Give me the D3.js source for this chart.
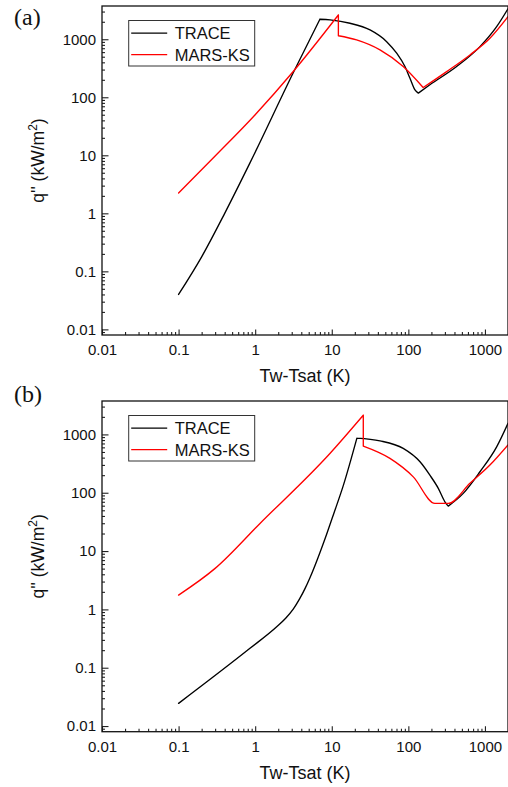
<!DOCTYPE html>
<html>
<head>
<meta charset="utf-8">
<script src="https://cdn.jsdelivr.net/npm/d3@7"></script>
<style>
  html, body { margin: 0; padding: 0; background: #fff; }
  svg { display: block; }
  text { font-family: "Liberation Sans", Arial, sans-serif; fill: #111; }
</style>
</head>
<body>
<svg id="chart" width="508" height="787"></svg>
<script>
// Boiling curve: wall heat flux vs wall superheat, two codes, two conditions

const seriesNames = ["TRACE", "MARS-KS"];
const seriesColors = ["#000000", "#ff0000"];

// Panel (a)
const traceA_dT = [0.1, 0.2, 0.4, 0.855, 3.14, 7.0, 9.5, 17.3, 31.6, 52.1, 70.4, 90.3, 105, 122, 135, 191, 427, 861, 1422, 2000];
const traceA_q  = [0.04, 0.178, 1.0, 7.4, 265, 2210, 2150, 1885, 1445, 909, 574, 338, 213, 134, 118, 164, 338, 747, 1648, 3350];
const marsA_dT  = [0.1, 0.3, 1.0, 3.14, 12.2, 12.2, 21.1, 42.6, 85.7, 156, 316, 637, 1161, 2000];
const marsA_q   = [2.24, 9.7, 50, 278, 2620, 1150, 973, 655, 338, 147, 277, 537, 1040, 2450];

// Panel (b)
const traceB_dT = [0.1, 0.855, 1.91, 2.5, 3.14, 3.8, 4.47, 5.19, 8.57, 10.5, 14.2, 21.3, 42.6, 85.7, 142, 191, 246, 300, 332, 521, 861, 1422, 2000];
const traceB_q  = [0.0245, 0.215, 0.504, 0.705, 1.01, 1.51, 2.27, 3.5, 19.5, 42, 135, 865, 776, 575, 339, 200, 119, 70, 59, 97.5, 229, 612, 1550];
const marsB_dT  = [0.1, 0.3, 1.156, 9.46, 25.8, 25.8, 57.5, 116, 222, 332, 637, 1161, 2000];
const marsB_q   = [1.76, 5.05, 29.8, 472, 2140, 630, 388, 187, 65.6, 65.6, 145, 298, 660];

// Axes
const xMajorTicks = [0.01, 0.1, 1, 10, 100, 1000];
const xTickLabels = ["0.01", "0.1", "1", "10", "100", "1000"];
const yMajorTicks = [0.01, 0.1, 1, 10, 100, 1000];
const yTickLabels = ["0.01", "0.1", "1", "10", "100", "1000"];
const xDomain = [0.01, 2000];
const yDomain = [0.008, 3740];
const xTitle = "Tw-Tsat (K)";

const svg = d3.select("#chart");
svg.append("rect").attr("width", 508).attr("height", 787).attr("fill", "#fff");

const x = d3.scaleLog().domain(xDomain).range([102, 508]);

function minorTicks(domain) {
  const out = [];
  for (let e = -4; e <= 4; e++) {
    for (let m = 2; m <= 9; m++) {
      const v = m * Math.pow(10, e);
      if (v > domain[0] * 1.02 && v < domain[1] * 0.999) out.push(v);
    }
  }
  return out;
}

// split a series into pieces at vertical steps and local extrema so corners stay sharp
function pieces(xs, qs) {
  const pts = xs.map((v, i) => [v, qs[i]]);
  const segs = [];
  let cur = [pts[0]];
  for (let i = 1; i < pts.length; i++) {
    const p = pts[i], prev = pts[i - 1];
    if (p[0] === prev[0]) {
      if (cur.length > 1) segs.push(cur);
      segs.push([prev, p]);
      cur = [p];
      continue;
    }
    cur.push(p);
    const next = pts[i + 1];
    if (next && next[0] !== p[0] && (p[1] - prev[1]) * (next[1] - p[1]) < 0) {
      segs.push(cur);
      cur = [p];
    }
  }
  if (cur.length > 1) segs.push(cur);
  return segs;
}

function panel(opts) {
  const { top, bottom, label, labelY, series } = opts;
  const y = d3.scaleLog().domain(yDomain).range([bottom, top]);
  const g = svg.append("g");
  const left = x.range()[0], right = x.range()[1];

  // x axis ticks (inward)
  const xMinor = d3.axisBottom(x).tickValues(minorTicks(xDomain)).tickSize(-3).tickSizeOuter(0).tickFormat("");
  const xMajor = d3.axisBottom(x).tickValues(xMajorTicks).tickSize(-5.5).tickSizeOuter(0).tickPadding(9.5)
    .tickFormat((d, i) => xTickLabels[i]);
  g.append("g").attr("transform", `translate(0,${bottom})`).call(xMinor);
  const gx = g.append("g").attr("transform", `translate(0,${bottom})`).call(xMajor);
  gx.selectAll("text").style("font-size", "15px").style("font-family", "Liberation Sans, Arial, sans-serif").attr("fill", "#111");

  // y axis ticks (inward)
  const yMinor = d3.axisLeft(y).tickValues(minorTicks(yDomain)).tickSize(-3).tickSizeOuter(0).tickFormat("");
  const yMajor = d3.axisLeft(y).tickValues(yMajorTicks).tickSize(-6.5).tickSizeOuter(0).tickPadding(6)
    .tickFormat((d, i) => yTickLabels[i]);
  g.append("g").attr("transform", `translate(${left},0)`).call(yMinor);
  const gy = g.append("g").attr("transform", `translate(${left},0)`).call(yMajor);
  gy.selectAll("text").style("font-size", "15px").style("font-family", "Liberation Sans, Arial, sans-serif").attr("fill", "#111");

  g.selectAll(".domain").remove();
  g.selectAll(".tick line").attr("stroke", "#222").attr("stroke-width", 1.1);

  // curves
  const line = d3.line().x(d => x(d[0])).y(d => y(d[1])).curve(d3.curveMonotoneX);
  const clipId = "clip" + label.replace(/\W/g, "");
  svg.append("clipPath").attr("id", clipId).append("rect")
    .attr("x", left).attr("y", top).attr("width", right - left).attr("height", bottom - top);
  const cg = g.append("g").attr("clip-path", `url(#${clipId})`);
  series.forEach((s, k) => {
    const d = pieces(s.dT, s.q).map(seg => line(seg)).join("");
    cg.append("path").attr("d", d).attr("fill", "none")
      .attr("stroke", seriesColors[k]).attr("stroke-width", 1.35)
      .attr("stroke-linejoin", "round").attr("stroke-linecap", "round");
  });

  // frame
  g.append("rect").attr("x", left).attr("y", top).attr("width", right - left).attr("height", bottom - top)
    .attr("fill", "none").attr("stroke", "#111").attr("stroke-width", 1.3);

  // legend
  const lg = g.append("g").attr("transform", `translate(128.7,${top + 14.5})`);
  lg.append("rect").attr("width", 126).attr("height", 45.5).attr("fill", "#fff")
    .attr("stroke", "#333").attr("stroke-width", 1);
  seriesNames.forEach((n, k) => {
    const cy = 12.6 + k * 21.6;
    lg.append("line").attr("x1", 2.5).attr("x2", 38.5).attr("y1", cy).attr("y2", cy)
      .attr("stroke", seriesColors[k]).attr("stroke-width", 1.2);
    lg.append("text").attr("x", 46).attr("y", cy + 6).style("font-size", "16.5px").text(n);
  });

  // axis titles
  g.append("text").attr("x", (left + right) / 2).attr("y", bottom + 47.3)
    .attr("text-anchor", "middle").style("font-size", "18px").text(xTitle);
  const yt = g.append("text")
    .attr("transform", `translate(44,${(top + bottom) / 2 - 10}) rotate(-90)`)
    .attr("text-anchor", "middle").style("font-size", "17.5px");
  yt.append("tspan").text("q'' (kW/m");
  yt.append("tspan").attr("baseline-shift", "super").style("font-size", "12px").text("2");
  yt.append("tspan").text(")");

  // panel label
  svg.append("text").attr("x", 14).attr("y", labelY)
    .style("font-family", "Liberation Serif, Times New Roman, serif").style("font-size", "24px")
    .text(label);
}

panel({
  top: 6, bottom: 335, label: "(a)", labelY: 25,
  series: [{ dT: traceA_dT, q: traceA_q }, { dT: marsA_dT, q: marsA_q }]
});
panel({
  top: 401, bottom: 731.7, label: "(b)", labelY: 402,
  series: [{ dT: traceB_dT, q: traceB_q }, { dT: marsB_dT, q: marsB_q }]
});
</script>
</body>
</html>
